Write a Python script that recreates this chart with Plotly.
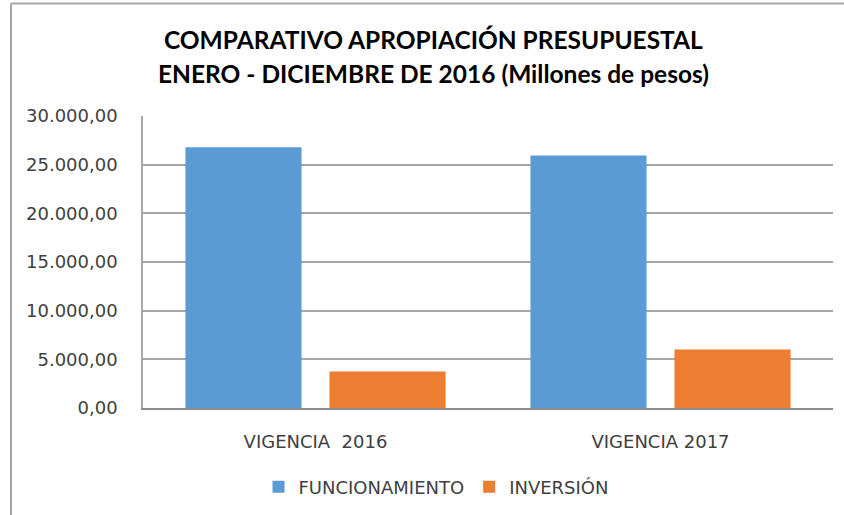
import plotly.graph_objects as go

categories = ["VIGENCIA  2016", "VIGENCIA 2017"]
funcionamiento = [26800, 25930]
inversion = [3760, 6010]
series_names = ["FUNCIONAMIENTO", "INVERSIÓN"]
colors = ["#5B9BD5", "#ED7D31"]
title_lines = ["COMPARATIVO APROPIACIÓN PRESUPUESTAL",
               "ENERO - DICIEMBRE DE 2016 (Millones de pesos)"]
y_ticks = [0, 5000, 10000, 15000, 20000, 25000, 30000]

fig = go.Figure()
for name, vals, col in zip(series_names, [funcionamiento, inversion], colors):
    fig.add_trace(go.Bar(x=categories, y=vals, name=name,
                         marker=dict(color=col, line=dict(width=0))))

W, H = 844, 515
L, R, T, B = 143, 11, 116, 106
pw, ph = W - L - R, H - T - B

def px_x(px):
    return (px - L) / pw

def px_y(py):
    return (H - B - py) / ph

grid = "#A6A6A6"
txt_col = "#404040"
fig.update_layout(
    width=W, height=H,
    margin=dict(l=L, r=R, t=T, b=B),
    paper_bgcolor="white", plot_bgcolor="white",
    separators=",.",
    barmode="group", bargap=0.165, bargroupgap=0.194,
    showlegend=True,
    legend=dict(orientation="h", x=px_x(436), xanchor="center",
                y=px_y(487), yanchor="middle",
                font=dict(family="DejaVu Sans", size=18, color=txt_col),
                itemwidth=30),
    font=dict(family="DejaVu Sans", color=txt_col),
)
fig.update_yaxes(range=[0, 30000], tickvals=y_ticks, tickformat=",.2f",
                 showgrid=True, gridcolor=grid, gridwidth=1.5,
                 showline=True, linecolor=grid, linewidth=1.5,
                 zeroline=False, ticks="", ticklabelstandoff=20,
                 tickfont=dict(family="DejaVu Sans", size=18, color=txt_col))
fig.update_xaxes(showline=True, linecolor="#8C8C8C", linewidth=2,
                 ticks="", ticklabelstandoff=16,
                 tickfont=dict(family="DejaVu Sans", size=18, color=txt_col))

for i, (txt, yc) in enumerate(zip(title_lines, [39, 73])):
    fig.add_annotation(text="<b>" + txt + "</b>", xref="paper", yref="paper",
                       x=px_x(433), y=px_y(yc), xanchor="center", yanchor="middle",
                       showarrow=False,
                       font=dict(family="Lato", size=24.5, color="#000000"))

# chart frame
fig.add_shape(type="line", xref="paper", yref="paper",
              x0=px_x(11), x1=px_x(W + 5), y0=px_y(3), y1=px_y(3),
              line=dict(color=grid, width=2))
fig.add_shape(type="line", xref="paper", yref="paper",
              x0=px_x(11), x1=px_x(11), y0=px_y(3), y1=px_y(H + 5),
              line=dict(color=grid, width=2))

fig.write_html("out.html", post_script="document.body.style.margin='0';",
               config={"displayModeBar": False})
